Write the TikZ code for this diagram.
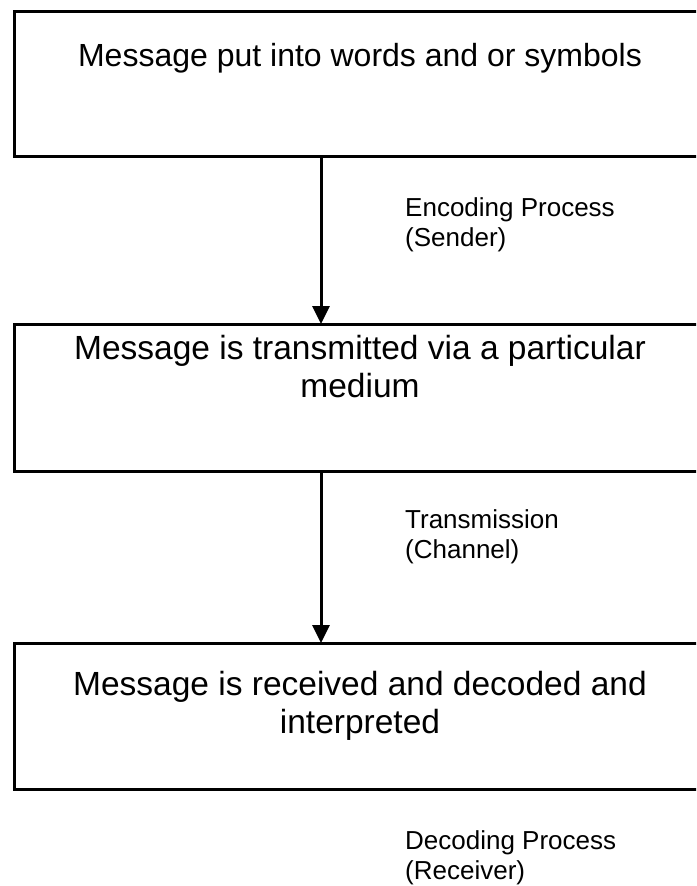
\documentclass[tikz,border=0pt]{standalone}
\usepackage{fontspec}
\setmainfont{Liberation Sans}
\usetikzlibrary{arrows.meta}
\tikzset{
  stagebox/.style={draw=black, line width=2.8pt, inner sep=0pt, anchor=north west},
  bigtext/.style={font=\fontsize{32}{37}\selectfont, inner sep=0pt, align=center},
  boxtext/.style={font=\fontsize{33.5}{38.5}\selectfont, inner sep=0pt, align=center, anchor=north},
  smalltext/.style={font=\fontsize{26}{30}\selectfont, inner sep=0pt, align=left, anchor=north west},
  flow/.style={line width=3pt, -{Triangle[width=17pt,length=18pt]}, shorten >=-1pt}
}
\begin{document}
\begin{tikzpicture}[x=1pt,y=-1pt]
\useasboundingbox (0,0) rectangle (696,886);
\clip (0,0) rectangle (696,886);
% boxes
\node[stagebox, minimum width=694pt, minimum height=145pt] (b1) at (13,10) {};
\node[stagebox, minimum width=694pt, minimum height=147pt] (b2) at (13,323) {};
\node[stagebox, minimum width=694pt, minimum height=146pt] (b3) at (13,642) {};
% box texts
\node[bigtext, anchor=base] (t1) at (360,66) {Message put into words and or symbols};
\node[boxtext] (t2) at (360,335) {Message is transmitted via a particular\\medium};
\node[boxtext] (t3) at (360,671) {Message is received and decoded and\\interpreted};
% connectors
\coordinate (a1s) at (321,155);
\coordinate (a1e) at (321,323);
\coordinate (a2s) at (321,470);
\coordinate (a2e) at (321,642);
\draw[flow] (a1s) -- (a1e);
\draw[flow] (a2s) -- (a2e);
% side labels
\node[smalltext] (l1) at (405,197) {Encoding Process\\(Sender)};
\node[smalltext] (l2) at (405,509) {Transmission\\(Channel)};
\node[smalltext] (l3) at (405,830) {Decoding Process\\(Receiver)};
\end{tikzpicture}
\end{document}
